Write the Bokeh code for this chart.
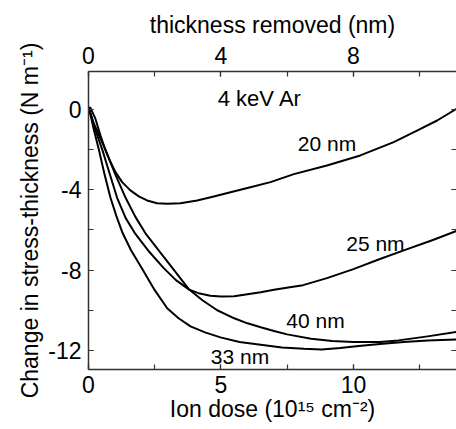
from bokeh.plotting import figure
from bokeh.models import Range1d, LinearAxis, SingleIntervalTicker, CustomJSTickFormatter
from bokeh.core.properties import value
from bokeh.embed import file_html
from bokeh.resources import INLINE

# ---- data ----
x20 = [0, 0.075, 0.26, 0.45, 0.64, 0.83, 1.02, 1.27, 1.58, 1.9, 2.21, 2.59, 2.97, 3.47, 4.1, 4.73,
       5.36, 6.11, 6.87, 7.75, 9.0, 10.26, 11.52, 12.4, 13.16, 13.89]
y20 = [0.1, 0.08, -0.46, -1.29, -2.04, -2.62, -3.12, -3.62, -4.03, -4.33, -4.53, -4.67, -4.7, -4.67, -4.53, -4.33,
       -4.12, -3.87, -3.62, -3.22, -2.79, -2.29, -1.63, -1.05, -0.55, 0.03]

x25 = [0, 0.1, 0.2, 0.52, 0.8, 1.08, 1.4, 1.77, 2.3, 2.84, 3.3, 3.8, 4.2, 4.6, 5.0, 5.5, 6.0, 6.5, 7.0, 7.6,
       8.1, 9.0, 10.0, 11.0, 11.9, 13.0, 13.89]
y25 = [0.1, -0.3, -0.8, -2.0, -3.2, -4.4, -5.4, -6.2, -7.1, -7.9, -8.5, -8.97, -9.17, -9.28, -9.32, -9.3, -9.2,
       -9.1, -8.98, -8.85, -8.75, -8.4, -7.95, -7.45, -7.02, -6.5, -6.05]

x40 = [0, 0.1, 0.2, 0.64, 1.0, 1.4, 1.77, 2.15, 2.7, 3.2, 3.8, 4.3, 4.86, 5.5, 6.0, 6.5, 7.0, 7.5, 8.4,
       9.2, 10.0, 11.0, 11.7, 12.8, 13.89]
y40 = [0.1, -0.3, -0.7, -2.0, -3.2, -4.4, -5.35, -6.17, -7.1, -7.95, -8.97, -9.5, -10.0, -10.4, -10.65, -10.85,
       -11.03, -11.2, -11.42, -11.53, -11.58, -11.58, -11.5, -11.3, -11.08]

x33 = [0, 0.1, 0.2, 0.39, 0.6, 0.83, 1.05, 1.27, 1.6, 2.03, 2.5, 2.97, 3.4, 3.85, 4.4, 4.98, 5.7, 6.5, 7.3,
       8.13, 8.8, 9.5, 10.2, 11.0, 11.9, 12.8, 13.89]
y33 = [0.1, -0.4, -1.0, -2.0, -3.2, -4.4, -5.3, -6.1, -7.0, -7.95, -9.0, -9.9, -10.4, -10.8, -11.1, -11.35,
       -11.58, -11.72, -11.85, -11.92, -11.95, -11.88, -11.78, -11.68, -11.58, -11.5, -11.45]

label_text = ["20 nm", "25 nm", "40 nm", "33 nm"]
label_x = [9.0, 10.83, 8.57, 5.72]
label_y = [-1.68, -6.66, -10.5, -12.29]

title_text = ["4 keV Ar"]
title_x = [6.47]
title_y = [0.56]

NM_PER_DOSE = 0.8  # thickness removed (nm) per 10^15 cm^-2

X_END = 13.89
FONT = "Liberation Sans"

p = figure(width=456, height=429, output_backend="svg", toolbar_location=None,
           x_range=Range1d(0, X_END), y_range=Range1d(-12.95, 1.89),
           min_border_left=88, min_border_right=0, min_border_top=71, min_border_bottom=60)
p.outline_line_color = None
p.xgrid.visible = False
p.ygrid.visible = False
p.background_fill_color = "white"
p.border_fill_color = "white"

p.extra_x_ranges = {"top": Range1d(0, X_END * NM_PER_DOSE)}

hyphen_fmt = CustomJSTickFormatter(code="return String(tick);")

def style_axis(ax):
    ax.axis_line_color = "#333333"
    ax.axis_line_width = 1.5
    ax.major_tick_line_color = "#333333"
    ax.minor_tick_line_color = "#333333"
    ax.major_tick_line_width = 1.2
    ax.minor_tick_line_width = 1.2
    ax.major_tick_in = 5
    ax.major_tick_out = 0
    ax.minor_tick_in = 5
    ax.minor_tick_out = 0
    ax.major_label_text_font = FONT
    ax.major_label_text_font_size = "23px"
    ax.major_label_text_color = "black"
    ax.axis_label_text_font = FONT
    ax.axis_label_text_font_size = "23px"
    ax.axis_label_text_font_style = "normal"
    ax.axis_label_text_color = "black"

bx = p.xaxis[0]
bx.ticker = SingleIntervalTicker(interval=5, num_minor_ticks=2)
bx.formatter = hyphen_fmt
bx.axis_label = "Ion dose (10¹⁵ cm⁻²)"
style_axis(bx)
bx.major_label_standoff = 6
bx.axis_label_standoff = 0

ly = p.yaxis[0]
ly.ticker = SingleIntervalTicker(interval=4, num_minor_ticks=2)
ly.formatter = hyphen_fmt
ly.axis_label = "Change in stress-thickness (N m⁻¹)"
style_axis(ly)
ly.major_label_standoff = 7
ly.axis_label_standoff = 2

tx = LinearAxis(x_range_name="top", axis_label="thickness removed (nm)",
                ticker=SingleIntervalTicker(interval=4, num_minor_ticks=2),
                formatter=CustomJSTickFormatter(code="return String(tick);"))
style_axis(tx)
tx.major_label_standoff = 8
tx.axis_label_standoff = 6
p.add_layout(tx, "above")

ry = LinearAxis(ticker=SingleIntervalTicker(interval=4, num_minor_ticks=2),
                formatter=CustomJSTickFormatter(code="return '';"))
style_axis(ry)
ry.axis_line_color = None
ry.major_label_standoff = 0
p.add_layout(ry, "right")

for xs, ys in [(x20, y20), (x25, y25), (x40, y40), (x33, y33)]:
    p.line(xs, ys, line_color="black", line_width=2, line_join="round")

p.text(x=label_x, y=label_y, text=label_text, text_font=value(FONT),
       text_font_size="21px", text_align="center", text_baseline="alphabetic", text_color="black")
p.text(x=title_x, y=title_y, text=title_text, text_font=value(FONT),
       text_font_size="22px", text_align="center", text_baseline="alphabetic", text_color="black")

open("out.html", "w").write(file_html(p, INLINE))
